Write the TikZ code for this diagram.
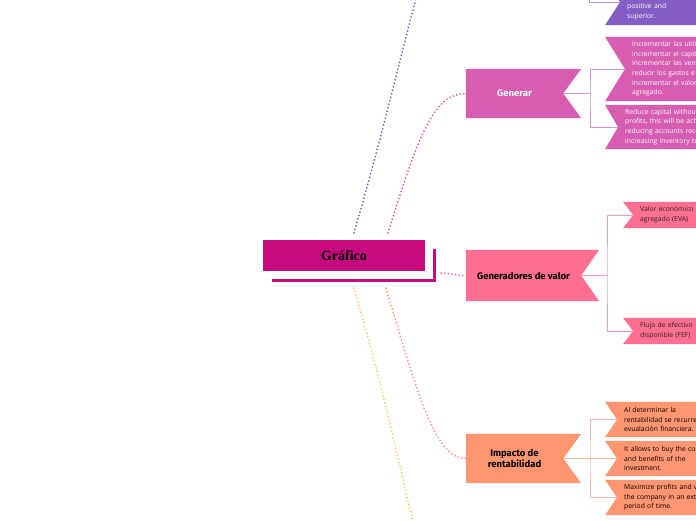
\documentclass[tikz,border=0pt]{standalone}
\usepackage{fontspec}
\newfontfamily\leaffont{Open Sans}
\newfontfamily\branchfont{Fira Sans}
\newfontfamily\titlefont{Liberation Serif}
\usetikzlibrary{backgrounds}

\definecolor{mainpink}{HTML}{C70A80}
\definecolor{violet}{HTML}{845EC2}
\definecolor{orchid}{HTML}{D65DB1}
\definecolor{rosepink}{HTML}{FF6F91}
\definecolor{salmon}{HTML}{FF9671}
\definecolor{sand}{HTML}{FFC75F}

% ribbon with a notch on the right (branch) or on the left (leaf)
\newcommand{\branchribbon}[2]{%
	\fill[#2] (#1.north west) -- ([xshift=18pt]#1.north east) -- (#1.east)
		-- ([xshift=18pt]#1.south east) -- (#1.south west) -- cycle;}
\newcommand{\leafribbon}[3]{%
	\fill[#2] ([xshift=-#3pt]#1.north west) -- (#1.west) -- ([xshift=-#3pt]#1.south west)
		-- (#1.south east) -- (#1.north east) -- cycle;}

\begin{document}
\begin{tikzpicture}[
						x=1pt, y=-1pt,
						line cap=round,
						line join=round,
						main/.style={minimum width=162pt, minimum height=31pt, inner sep=0pt, text=black, font=\titlefont\bfseries\fontsize{14}{16}\selectfont},
						branch/.style={minimum height=49pt, inner sep=0pt, align=center, font=\branchfont\bfseries\fontsize{9.5}{10.5}\selectfont},
						leaf/.style={anchor=west, inner xsep=7pt, inner ysep=0pt, text width=120pt, align=left, font=\leaffont\fontsize{6.8}{9.6}\selectfont},
						dotline/.style={line width=2pt, dash pattern=on 0pt off 3.6pt},
						hubline/.style={line width=0.9pt}
						]
						
						\useasboundingbox (0,0) rectangle (696,520);
						\clip (0,0) rectangle (696,520);
						
						% Central topic
						\node[main] (grafico) at (344,255.5) {Gráfico};
						
						% Branches (two of them lie outside the picture)
						\coordinate (violetbranch) at (466,-89);
						\node[branch, minimum width=97pt, text=white] (generar) at (514.5,93.5) {Generar};
						\node[branch, minimum width=115pt, minimum height=51pt, text=black] (generadores) at (523.5,275.5) {Generadores de valor};
						\node[branch, minimum width=97pt, text=black] (impacto) at (514.5,458.5) {Impacto de\\rentabilidad};
						\coordinate (sandbranch) at (466,640);
						
						% Leaves
						\node[leaf, minimum height=46pt, text=white] (vleaf) at (620,2) {Obtain a\\return that is\\positive and\\superior.};
						\node[leaf, minimum height=64pt, text=white] (gleafa) at (625,69) {Incrementar las utilidades,\\incrementar el capital,\\incrementar las ventas,\\reducir los gastos e\\incrementar el valor\\agregado.};
						\node[leaf, minimum height=44pt, text=white] (gleafb) at (618,127) {Reduce capital without\\profits, this will be achieved by\\reducing accounts receivable\\increasing inventory turnover.};
						\node[leaf, minimum height=26pt, text=black!85] (vleafa) at (633,215) {Valor económico\\agregado (EVA)};
						\node[leaf, minimum height=26pt, text=black!85] (vleafb) at (633,331) {Flujo de efectivo\\disponible (FEF)};
						\node[leaf, minimum height=35pt, text=black] (ileafa) at (617,419.5) {Al determinar la\\rentabilidad se recurre a la\\evualación financiera.};
						\node[leaf, minimum height=35pt, text=black] (ileafb) at (617,458.5) {It allows to buy the costs\\and benefits of the\\investment.};
						\node[leaf, minimum height=35pt, text=black] (ileafc) at (617,497.5) {Maximize profits and value of\\the company in an extended\\period of time.};
						
						% Fills behind the texts
						\begin{scope}[on background layer]
							\clip (0,0) rectangle (696,520);
							\fill[mainpink] (grafico.south west) rectangle (grafico.north east);
							\draw[mainpink, line width=3pt, line cap=butt] ([shift={(9,9)}]grafico.south west) -- ([shift={(9,9)}]grafico.south east) -- ([shift={(9,9)}]grafico.north east);
							\branchribbon{generar}{orchid}
							\branchribbon{generadores}{rosepink}
							\branchribbon{impacto}{salmon}
							\leafribbon{vleaf}{violet}{15}
							\leafribbon{gleafa}{orchid}{20}
							\leafribbon{gleafb}{orchid}{13}
							\leafribbon{vleafa}{rosepink}{10}
							\leafribbon{vleafb}{rosepink}{10}
							\leafribbon{ileafa}{salmon}{12}
							\leafribbon{ileafb}{salmon}{12}
							\leafribbon{ileafc}{salmon}{12}
						\end{scope}
						
						% Dotted connectors from the central topic
						\draw[dotline, violet] ([shift={(10,-7)}]grafico.north) .. controls +(62,-213) and +(-41,0) .. (violetbranch);
						\draw[dotline, orchid] ([shift={(44,-7)}]grafico.north) .. controls +(32,-103) and +(-31,0) .. (generar.west);
						\draw[dotline, rosepink] ([shift={(16,17.5)}]grafico.east) .. controls +(12,0) and +(-12,0) .. (generadores.west);
						\draw[dotline, salmon] ([shift={(42,17)}]grafico.south) .. controls +(32,107) and +(-31,0) .. (impacto.west);
						\draw[dotline, sand] ([shift={(10,17)}]grafico.south) .. controls +(62,210) and +(-41,0) .. (sandbranch);
						
						% Branch to leaves
						\coordinate (violethub) at (589,-40);
						\draw[hubline, violet!70] (violethub) |- (vleaf.west);
						\draw[hubline, orchid!70] (generar.east) -- (590,93.5) coordinate (generarhub);
						\draw[hubline, orchid!70] (gleafa.west) -| (generarhub) |- (gleafb.west);
						\draw[hubline, rosepink!70] (generadores.east) -- (607,275.5) coordinate (generadoreshub);
						\draw[hubline, rosepink!70] (vleafa.west) -| (generadoreshub) |- (vleafb.west);
						\draw[hubline, salmon!70] (impacto.east) -- (590,458.5) coordinate (impactohub);
						\draw[hubline, salmon!70] (ileafa.west) -| (impactohub) |- (ileafc.west);
						\draw[hubline, salmon!70] (impactohub) -- (ileafb.west);
						
					\end{tikzpicture}
\end{document}
